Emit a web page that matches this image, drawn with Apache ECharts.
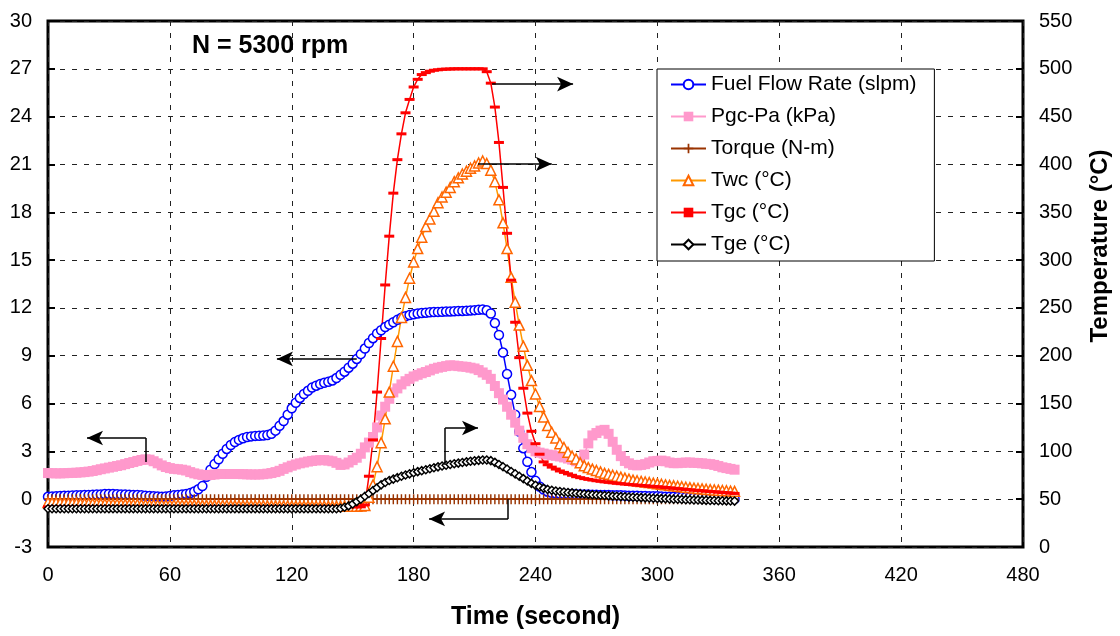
<!DOCTYPE html>
<html>
<head>
<meta charset="utf-8">
<script src="https://cdn.jsdelivr.net/npm/echarts@6/dist/echarts.min.js"></script>
<style>
html,body{margin:0;padding:0;background:#fff;}
#chart{width:1120px;height:636px;}
</style>
</head>
<body>
<div id="chart"></div>
<script>
// Time (s), sampled every 2 s
const times = [
0,2,4,6,8,10,12,14,16,18,
20,22,24,26,28,30,32,34,36,38,
40,42,44,46,48,50,52,54,56,58,
60,62,64,66,68,70,72,74,76,78,
80,82,84,86,88,90,92,94,96,98,
100,102,104,106,108,110,112,114,116,118,
120,122,124,126,128,130,132,134,136,138,
140,142,144,146,148,150,152,154,156,158,
160,162,164,166,168,170,172,174,176,178,
180,182,184,186,188,190,192,194,196,198,
200,202,204,206,208,210,212,214,216,218,
220,222,224,226,228,230,232,234,236,238,
240,242,244,246,248,250,252,254,256,258,
260,262,264,266,268,270,272,274,276,278,
280,282,284,286,288,290,292,294,296,298,
300,302,304,306,308,310,312,314,316,318,
320,322,324,326,328,330,332,334,336,338
];
const fuelFlow = [
0.15,0.17,0.18,0.20,0.21,0.22,0.23,0.24,0.25,0.26,
0.27,0.28,0.29,0.30,0.32,0.33,0.32,0.31,0.30,0.29,
0.28,0.27,0.26,0.24,0.22,0.20,0.18,0.17,0.16,0.17,
0.20,0.24,0.27,0.30,0.33,0.38,0.48,0.62,0.82,1.40,
1.85,2.20,2.50,2.85,3.15,3.40,3.58,3.72,3.82,3.90,
3.94,3.97,3.98,3.99,4.02,4.10,4.30,4.60,4.90,5.30,
5.70,6.05,6.35,6.60,6.80,7.00,7.12,7.22,7.30,7.36,
7.45,7.60,7.80,8.00,8.25,8.50,8.80,9.10,9.45,9.80,
10.1,10.4,10.6,10.8,10.95,11.1,11.25,11.38,11.48,11.55,
11.6,11.65,11.68,11.7,11.72,11.74,11.75,11.76,11.77,11.78,
11.79,11.8,11.81,11.82,11.84,11.86,11.88,11.9,11.85,11.65,
11.05,10.3,9.2,7.85,6.55,5.3,4.25,3.2,2.35,1.7,
1.15,0.8,0.6,0.47,0.4,0.37,0.35,0.34,0.33,0.32,
0.31,0.30,0.30,0.29,0.28,0.28,0.27,0.26,0.26,0.25,
0.24,0.24,0.23,0.22,0.22,0.21,0.20,0.20,0.19,0.18,
0.18,0.17,0.16,0.15,0.15,0.14,0.13,0.12,0.12,0.11,
0.10,0.09,0.08,0.07,0.06,0.05,0.04,0.03,0.02,0.01
];
const pgcPa = [
1.64,1.63,1.62,1.62,1.63,1.64,1.65,1.66,1.68,1.70,
1.73,1.77,1.82,1.88,1.93,1.98,2.03,2.08,2.13,2.20,
2.27,2.33,2.40,2.46,2.50,2.48,2.38,2.25,2.12,2.02,
1.95,1.90,1.88,1.85,1.80,1.70,1.62,1.56,1.52,1.50,
1.52,1.55,1.58,1.58,1.58,1.58,1.58,1.58,1.57,1.56,
1.55,1.55,1.55,1.57,1.60,1.64,1.70,1.78,1.90,2.00,
2.10,2.18,2.25,2.30,2.36,2.40,2.43,2.45,2.45,2.42,
2.38,2.28,2.15,2.18,2.30,2.45,2.60,2.85,3.25,3.55,
3.90,4.50,5.25,5.80,6.30,6.70,6.95,7.20,7.40,7.55,
7.70,7.80,7.90,7.98,8.08,8.18,8.25,8.30,8.35,8.40,
8.38,8.35,8.32,8.30,8.25,8.20,8.10,7.95,7.80,7.55,
7.10,6.65,6.25,5.80,5.30,4.80,4.30,3.85,3.45,3.20,
3.00,2.92,2.86,2.80,2.76,2.72,2.68,2.62,2.55,2.48,
2.38,2.30,2.80,3.50,4.00,4.15,4.30,4.35,4.10,3.60,
3.10,2.70,2.40,2.25,2.15,2.12,2.15,2.20,2.30,2.38,
2.40,2.42,2.38,2.30,2.26,2.26,2.28,2.30,2.30,2.28,
2.27,2.25,2.22,2.20,2.15,2.08,2.00,1.95,1.90,1.85
];
const torque = [
0,0,0,0,0,0,0,0,0,0, 0,0,0,0,0,0,0,0,0,0,
0,0,0,0,0,0,0,0,0,0, 0,0,0,0,0,0,0,0,0,0,
0,0,0,0,0,0,0,0,0,0, 0,0,0,0,0,0,0,0,0,0,
0,0,0,0,0,0,0,0,0,0, 0,0,0,0,0,0,0,0,0,0,
0,0,0,0,0,0,0,0,0,0, 0,0,0,0,0,0,0,0,0,0,
0,0,0,0,0,0,0,0,0,0, 0,0,0,0,0,0,0,0,0,0,
0,0,0,0,0,0,0,0,0,0, 0,0,0,0,0,0,0,0,0,0,
0,0,0,0,0,0,0,0,0,0, 0,0,0,0,0,0,0,0,0,0,
0,0,0,0,0,0,0,0,0,0
];
const twc = [
46.5,46.4,46.3,46.2,46.1,46.0,45.9,45.8,45.7,45.6,
45.5,45.4,45.3,45.2,45.1,45.0,44.9,44.8,44.7,44.6,
44.5,44.4,44.4,44.3,44.3,44.2,44.2,44.1,44.1,44.0,
44.0,43.9,43.9,43.8,43.8,43.7,43.7,43.6,43.6,43.5,
43.5,43.5,43.4,43.4,43.4,43.3,43.3,43.3,43.2,43.2,
43.2,43.1,43.1,43.1,43.0,43.0,43.0,42.9,42.9,42.9,
42.8,42.8,42.8,42.7,42.7,42.7,42.6,42.6,42.6,42.5,
42.5,42.5,42.5,42.5,42.5,42.5,42.6,42.8,43.5,52,
65,84,109,134,162,189,215,240,261,281,
298,312,324,335,343,351,360,366,371,376,
382,386,390,393,396,398.5,401.5,403.6,401,394,
382,363,339,312,282,256,232,210,190,174,
160,147,136,127,120,114,108,104,99,95,
92,88,85,83,81.5,80,78.5,77,76,75,
74,73,72,71,70,69.3,68.6,68,67.4,66.8,
66.2,65.6,65,64.5,64,63.5,63,62.5,62,61.6,
61.2,60.8,60.4,60,59.7,59.4,59.1,58.8,58.5,58.2
];
const tgc = [
42,42,42,42,42,42,42,42,42,42,
42,42,42,42,42,42,42,42,42,42,
42,42,42,42,42,42,42,42,42,42,
42,42,42,42,42,42,42,42,42,42,
42,42,42,42,42,42,42,42,42,42,
42,42,42,42,42,42,42,42,42,42,
42,42,42,42,42,42,42,42,42,42,
42,42,42,42,42,42,42,42,44,74,
112,162,218,274,325,370,405,432,454,468,
481,489,494,496,497.5,498.5,499,499.5,499.7,499.8,
500,500,500,500,500,500,500,500,497,485,
460,423,376,328,279,235,198,166,140,121,
108,97,89,86,83.5,81.5,79.5,78,76.5,75,
73.5,72.5,71.5,70.7,70,69.3,68.7,68.1,67.6,67.1,
66.6,66.2,65.8,65.4,65,64.7,64.3,64,63.6,63.3,
63,62.6,62.2,61.8,61.4,61,60.6,60.2,59.8,59.4,
59,58.7,58.4,58,57.7,57.4,57,56.7,56.4,56
];
const tge = [
40,40,40,40,40,40,40,40,40,40,
40,40,40,40,40,40,40,40,40,40,
40,40,40,40,40,40,40,40,40,40,
40,40,40,40,40,40,40,40,40,40,
40,40,40,40,40,40,40,40,40,40,
40,40,40,40,40,40,40,40,40,40,
40,40,40,40,40,40,40,40,40,40,
40,40,40.5,41.5,43,45,47.5,50,53,56,
59,62,65,67.5,69.5,71,72.5,74,75.3,76.5,
77.7,78.8,79.8,80.8,81.8,82.8,83.8,84.7,85.5,86.2,
87,87.7,88.4,89,89.6,90.1,90.6,91,91,90.3,
88.5,86.3,84,81.5,79,76.5,74,71.5,69,66.5,
64.5,62.8,61.3,60.2,59.3,58.6,58,57.5,57,56.6,
56.2,55.8,55.4,55,54.7,54.4,54.1,53.8,53.5,53.2,
53,52.7,52.5,52.2,52,51.8,51.6,51.4,51.2,51,
50.8,50.6,50.4,50.2,50,49.9,49.7,49.5,49.4,49.2,
49.1,49,48.8,48.7,48.6,48.4,48.3,48.2,48.1,48
];
const seriesNames = ['Fuel Flow Rate (slpm)','Pgc-Pa (kPa)','Torque (N-m)','Twc (°C)','Tgc (°C)','Tge (°C)'];
const xTitle = 'Time (second)';
const yRightTitle = 'Temperature (°C)';
const chartNote = 'N = 5300 rpm';

const FONT = 'Liberation Sans, Arial, sans-serif';
const zip = v => times.map((t,i)=>[t, v[i]]);
const plusPath = 'path://M0,4.1H10V5.9H0Z M4.1,0H5.9V10H4.1Z';

function arrow(segs){
  return {
    silent:true, z:20, animation:false,
    label:{show:false}, emphasis:{disabled:true},
    lineStyle:{color:'#000', width:1.5, type:'solid'},
    symbolSize:[11,16],
    data: segs.map(s=>[{coord:s[0], symbol:'none'},{coord:s[1], symbol:s[2]?'arrow':'none'}])
  };
}

function lineSeries(name, data, yIdx, color, symbol, size, itemStyle, markLine){
  const s = {
    name, type:'line', data:zip(data), yAxisIndex:yIdx,
    symbol, symbolSize:size, showSymbol:true, showAllSymbol:true,
    lineStyle:{color, width:1.5}, itemStyle,
    emphasis:{disabled:true}, animation:false, clip:true
  };
  if (markLine) s.markLine = markLine;
  return s;
}

const chart = echarts.init(document.getElementById('chart'), null, {renderer:'canvas'});
chart.setOption({
  backgroundColor:'#fff',
  animation:false,
  title:{text:chartNote, left:187, top:29, textStyle:{fontSize:25, fontWeight:'bold', fontFamily:FONT, color:'#000'}},
  grid:{left:48, right:97, top:21, bottom:89, show:true, borderColor:'#000', borderWidth:3, backgroundColor:'transparent'},
  legend:{
    orient:'vertical', left:657, top:69, padding:[5,18,6,13], itemGap:11,
    itemWidth:35, itemHeight:12, backgroundColor:'#fff', borderColor:'#000', borderWidth:1,
    textStyle:{fontSize:21, fontFamily:FONT, color:'#000', lineHeight:21},
    data:seriesNames, selectedMode:false
  },
  xAxis:{
    type:'value', min:0, max:480, interval:60,
    name:xTitle, nameLocation:'middle', nameGap:58,
    nameTextStyle:{fontSize:25, fontWeight:'bold', fontFamily:FONT, color:'#000'},
    axisLine:{show:false}, axisTick:{show:false},
    axisLabel:{fontSize:20, fontFamily:FONT, color:'#000', margin:18},
    splitLine:{show:true, lineStyle:{color:'#222', width:1, type:[5,7]}}
  },
  yAxis:[
    {type:'value', min:-3, max:30, interval:3, position:'left',
     axisLine:{show:false}, axisTick:{show:true, inside:true, length:7, lineStyle:{color:'#000', width:2}},
     axisLabel:{fontSize:20, fontFamily:FONT, color:'#000', margin:16},
     splitLine:{show:true, lineStyle:{color:'#222', width:1, type:[5,7]}}},
    {type:'value', min:0, max:550, interval:50, position:'right',
     axisLine:{show:false}, axisTick:{show:true, inside:true, length:7, lineStyle:{color:'#000', width:2}},
     axisLabel:{fontSize:20, fontFamily:FONT, color:'#000', margin:16},
     splitLine:{show:false}}
  ],
  graphic:[{type:'text', x:1100, y:246, rotation:Math.PI/2,
    style:{text:yRightTitle, font:'bold 24px '+FONT, fill:'#000', textAlign:'center', textVerticalAlign:'middle'}}],
  series:[
    lineSeries(seriesNames[0], fuelFlow, 0, '#0000FF', 'circle', 9,
      {color:'#fff', borderColor:'#0000FF', borderWidth:1.5},
      arrow([[[152,8.8],[112.7,8.8],true]])),
    lineSeries(seriesNames[1], pgcPa, 0, '#FF99CC', 'rect', 10,
      {color:'#FF99CC', borderWidth:0},
      arrow([[[48.2,2.33],[48.2,3.84],false],[[48.2,3.84],[19.2,3.84],true]])),
    lineSeries(seriesNames[2], torque, 0, '#993300', plusPath, [8,10],
      {color:'#993300', borderWidth:0},
      arrow([[[226.5,0],[226.5,-1.24],false],[[226.5,-1.24],[187.6,-1.24],true]])),
    lineSeries(seriesNames[3], twc, 1, '#FF9900', 'triangle', 10,
      {color:'#fff', borderColor:'#FF6600', borderWidth:1.5},
      arrow([[[211.7,400.5],[248,400.5],true]])),
    lineSeries(seriesNames[4], tgc, 1, '#FF0000', 'rect', [10,3],
      {color:'#FF0000', borderWidth:0},
      arrow([[[218.6,484],[258.5,484],true]])),
    lineSeries(seriesNames[5], tge, 1, '#000000', 'diamond', 8,
      {color:'#fff', borderColor:'#000', borderWidth:1.5},
      arrow([[[195.5,85.7],[195.5,124.4],false],[[195.5,124.4],[211.7,124.4],true]]))
  ]
});
</script>
</body>
</html>
